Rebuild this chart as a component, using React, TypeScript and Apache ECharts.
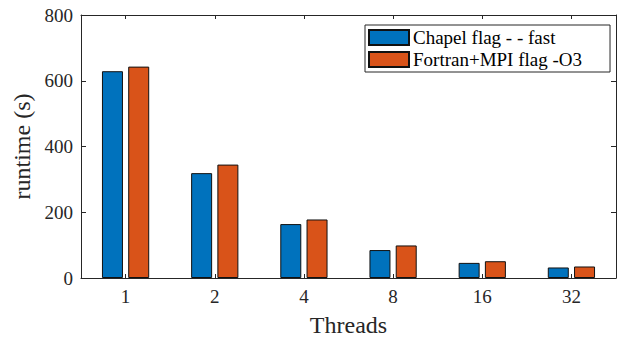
import React, { useEffect, useRef } from "react";
import * as echarts from "echarts";

const threads = ["1", "2", "4", "8", "16", "32"];
const chapel = [629, 319, 164, 85, 46, 32];
const fortran = [643, 345, 178, 99, 51, 35];
const yTicks = [0, 200, 400, 600, 800];

const FONT = "Liberation Serif";
const AX = "#262626";

const tickLabel = { fontFamily: FONT, fontSize: 19, color: "#262626", fontWeight: "normal" as const };

export default function App() {
  const ref = useRef<HTMLDivElement>(null);
  useEffect(() => {
    if (!ref.current) return;
    const chart = echarts.init(ref.current, undefined, { renderer: "svg" });
    chart.setOption({
      animation: false,
      textStyle: { fontFamily: FONT },
      grid: { left: 81, top: 15, right: 5, bottom: 61, show: false, containLabel: false, outerBoundsMode: "none" },
      legend: {
        orient: "vertical",
        left: 365,
        top: 25,
        backgroundColor: "#fff",
        borderColor: "#262626",
        borderWidth: 1,
        padding: [3, 28, 3, 3],
        itemGap: 3,
        itemWidth: 40,
        itemHeight: 15,
        icon: "rect",
        textStyle: { fontFamily: FONT, fontSize: 19, color: "#000", padding: [0, 0, 0, -1] },
        data: ["Chapel flag - - fast", "Fortran+MPI flag -O3"],
      },
      xAxis: [
        {
          type: "category",
          data: threads,
          position: "bottom",
          name: "Threads",
          nameLocation: "middle",
          nameGap: 35,
          nameTextStyle: { fontFamily: FONT, fontSize: 24, color: "#262626" },
          axisLine: { show: true, onZero: false, lineStyle: { color: AX, width: 1 } },
          axisTick: { show: true, inside: true, alignWithLabel: true, length: 4, lineStyle: { color: AX } },
          axisLabel: { ...tickLabel, margin: 9 },
          splitLine: { show: false },
        },
        {
          type: "category",
          data: threads,
          position: "top",
          axisLine: { show: true, onZero: false, lineStyle: { color: AX, width: 1 } },
          axisTick: { show: true, inside: true, alignWithLabel: true, length: 4, lineStyle: { color: AX } },
          axisLabel: { show: false },
          splitLine: { show: false },
        },
      ],
      yAxis: [
        {
          type: "value",
          min: 0,
          max: 800,
          interval: 200,
          position: "left",
          name: "runtime (s)",
          nameLocation: "middle",
          nameGap: 44,
          nameTextStyle: { fontFamily: FONT, fontSize: 24, color: "#262626" },
          axisLine: { show: true, onZero: false, lineStyle: { color: AX, width: 1 } },
          axisTick: { show: true, inside: true, length: 5, lineStyle: { color: AX } },
          axisLabel: {
            ...tickLabel,
            margin: 8,
            formatter: (v: number) => (yTicks.includes(v) ? String(v) : ""),
          },
          splitLine: { show: false },
        },
        {
          type: "value",
          min: 0,
          max: 800,
          interval: 200,
          position: "right",
          axisLine: { show: true, onZero: false, lineStyle: { color: AX, width: 1 } },
          axisTick: { show: true, inside: true, length: 5, lineStyle: { color: AX } },
          axisLabel: { show: false },
          splitLine: { show: false },
        },
      ],
      series: [
        {
          name: "Chapel flag - - fast",
          type: "bar",
          data: chapel,
          barWidth: 21,
          barGap: "25%",
          itemStyle: { color: "#0072BD", borderColor: "#111", borderWidth: 1 },
        },
        {
          name: "Fortran+MPI flag -O3",
          type: "bar",
          data: fortran,
          barWidth: 21,
          barGap: "25%",
          itemStyle: { color: "#D95319", borderColor: "#111", borderWidth: 1 },
        },
      ],
    });
    return () => chart.dispose();
  }, []);
  return <div ref={ref} style={{ width: 621, height: 339, position: "absolute", left: 0, top: 0 }} />;
}
